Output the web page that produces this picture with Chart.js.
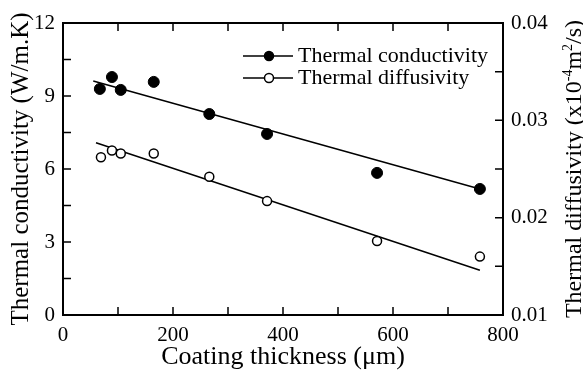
<!DOCTYPE html>
<html>
<head>
<meta charset="utf-8">
<script src="https://cdn.jsdelivr.net/npm/chart.js@4.4.1/dist/chart.umd.min.js"></script>
<style>
html, body { margin: 0; padding: 0; background: #fff; }
canvas { display: block; }
</style>
</head>
<body>
<canvas id="myChart" width="583" height="372"></canvas>
<script>
// values
var thickness = [67, 89, 105, 165, 266, 371, 571, 758];
var conductivity = [9.29, 9.78, 9.25, 9.58, 8.26, 7.44, 5.84, 5.18];
var diffThickness = [69, 89, 105, 165, 266, 371, 571, 758];
var diffusivity = [0.0262, 0.0269, 0.0266, 0.0266, 0.0242, 0.0217, 0.0176, 0.0160];

// linear fits drawn on the figure (end points)
var condFitX = [55, 758];
var condFitY = [9.62, 5.18];
var diffFitX = [60, 758];
var diffFitY = [0.0277, 0.0146];

// tick labels
var xLabels = [0, 200, 400, 600, 800];
var leftLabels = [0, 3, 6, 9, 12];
var rightLabels = [0.01, 0.02, 0.03, 0.04];

var serif = '"Liberation Serif", "Times New Roman", serif';

function pts(xs, ys) {
  var out = [];
  for (var i = 0; i < xs.length; i++) out.push({ x: xs[i], y: ys[i] });
  return out;
}

function hasLabel(list, v) {
  for (var i = 0; i < list.length; i++) {
    if (Math.abs(list[i] - v) < 1e-9) return true;
  }
  return false;
}

// box, inward ticks, legend and right axis title
var frame = {
  id: 'frame',
  afterDraw: function(chart) {
    var ctx = chart.ctx, a = chart.chartArea;
    var sx = chart.scales.x, sy = chart.scales.y, sy1 = chart.scales.y1;
    ctx.save();
    ctx.strokeStyle = '#000';
    ctx.lineWidth = 1.5;
    ctx.beginPath();
    sx.ticks.forEach(function(t) {
      var p = sx.getPixelForValue(t.value);
      ctx.moveTo(p, a.bottom); ctx.lineTo(p, a.bottom - 8);
      ctx.moveTo(p, a.top); ctx.lineTo(p, a.top + 8);
    });
    sy.ticks.forEach(function(t) {
      var p = sy.getPixelForValue(t.value);
      ctx.moveTo(a.left, p); ctx.lineTo(a.left + 8, p);
    });
    sy1.ticks.forEach(function(t) {
      var p = sy1.getPixelForValue(t.value);
      ctx.moveTo(a.right, p); ctx.lineTo(a.right - 8, p);
    });
    ctx.stroke();
    ctx.lineWidth = 2;
    ctx.strokeRect(a.left, a.top, a.right - a.left, a.bottom - a.top);

    // legend
    var lx = a.left + 180, ly = a.top + 33;
    chart.data.datasets.slice(0, 2).forEach(function(ds, i) {
      var y = ly + i * 22;
      ctx.lineWidth = 1.5;
      ctx.strokeStyle = '#000';
      ctx.beginPath();
      ctx.moveTo(lx, y); ctx.lineTo(lx + 50, y);
      ctx.stroke();
      ctx.beginPath();
      ctx.arc(lx + 26, y, 4.5, 0, Math.PI * 2);
      ctx.fillStyle = ds.backgroundColor;
      ctx.fill();
      ctx.stroke();
      ctx.fillStyle = '#000';
      ctx.font = '22px ' + serif;
      ctx.textBaseline = 'middle';
      ctx.textAlign = 'left';
      ctx.fillText(ds.label, lx + 55, y);
    });

    // right axis title with superscripts
    var parts = [
      ['Thermal diffusivity (x10', false],
      ['-4', true],
      ['m', false],
      ['2', true],
      ['/s)', false]
    ];
    var big = '24px ' + serif, small = '14px ' + serif;
    var total = 0;
    parts.forEach(function(p) {
      ctx.font = p[1] ? small : big;
      total += ctx.measureText(p[0]).width;
    });
    ctx.translate(581, (a.top + a.bottom) / 2);
    ctx.rotate(-Math.PI / 2);
    ctx.textBaseline = 'alphabetic';
    ctx.textAlign = 'left';
    var cx = -total / 2;
    parts.forEach(function(p) {
      ctx.font = p[1] ? small : big;
      ctx.fillText(p[0], cx, p[1] ? -9 : 0);
      cx += ctx.measureText(p[0]).width;
    });
    ctx.restore();
  }
};

var ctx = document.getElementById('myChart').getContext('2d');
var chart = new Chart(ctx, {
  type: 'scatter',
  data: {
    datasets: [{
      label: 'Thermal conductivity',
      data: pts(thickness, conductivity),
      yAxisID: 'y',
      backgroundColor: '#000',
      borderColor: '#000',
      pointRadius: 5.5,
      pointBorderWidth: 1
    }, {
      label: 'Thermal diffusivity',
      data: pts(diffThickness, diffusivity),
      yAxisID: 'y1',
      backgroundColor: '#fff',
      borderColor: '#000',
      pointRadius: 4.5,
      pointBorderWidth: 1.5
    }, {
      label: 'fit1',
      data: pts(condFitX, condFitY),
      yAxisID: 'y',
      showLine: true,
      borderColor: '#000',
      borderWidth: 1.5,
      pointRadius: 0
    }, {
      label: 'fit2',
      data: pts(diffFitX, diffFitY),
      yAxisID: 'y1',
      showLine: true,
      borderColor: '#000',
      borderWidth: 1.5,
      pointRadius: 0
    }]
  },
  options: {
    responsive: false,
    animation: false,
    layout: { padding: { top: 23, left: 0, right: 0, bottom: 0 } },
    plugins: { legend: { display: false }, tooltip: { enabled: false } },
    scales: {
      x: {
        type: 'linear', min: 0, max: 800,
        grid: { display: false, drawTicks: false },
        border: { display: false },
        ticks: {
          stepSize: 100, padding: 8, color: '#000', maxRotation: 0,
          font: { family: serif, size: 21 },
          callback: function(v) { return hasLabel(xLabels, v) ? String(v) : ''; }
        },
        title: { display: true, text: 'Coating thickness (\u03bcm)', color: '#000',
          font: { family: serif, size: 26 }, padding: { top: 0, bottom: -1 } },
        afterFit: function(s) { s.height = 57; }
      },
      y: {
        type: 'linear', position: 'left', min: 0, max: 12,
        grid: { display: false, drawTicks: false },
        border: { display: false },
        ticks: {
          stepSize: 1.5, padding: 8, color: '#000',
          font: { family: serif, size: 21 },
          callback: function(v) { return hasLabel(leftLabels, v) ? String(v) : ''; }
        },
        title: { display: true, text: 'Thermal conductivity (W/m.K)', color: '#000',
          font: { family: serif, size: 25 }, padding: { top: 6, bottom: 0 } },
        afterFit: function(s) { s.width = 63; }
      },
      y1: {
        type: 'linear', position: 'right', min: 0.01, max: 0.04,
        grid: { display: false, drawTicks: false },
        border: { display: false },
        ticks: {
          stepSize: 0.005, padding: 8, color: '#000',
          font: { family: serif, size: 21 },
          callback: function(v) { return hasLabel(rightLabels, v) ? v.toFixed(2) : ''; }
        },
        afterFit: function(s) { s.width = 80; }
      }
    }
  },
  plugins: [frame]
});
</script>
</body>
</html>
